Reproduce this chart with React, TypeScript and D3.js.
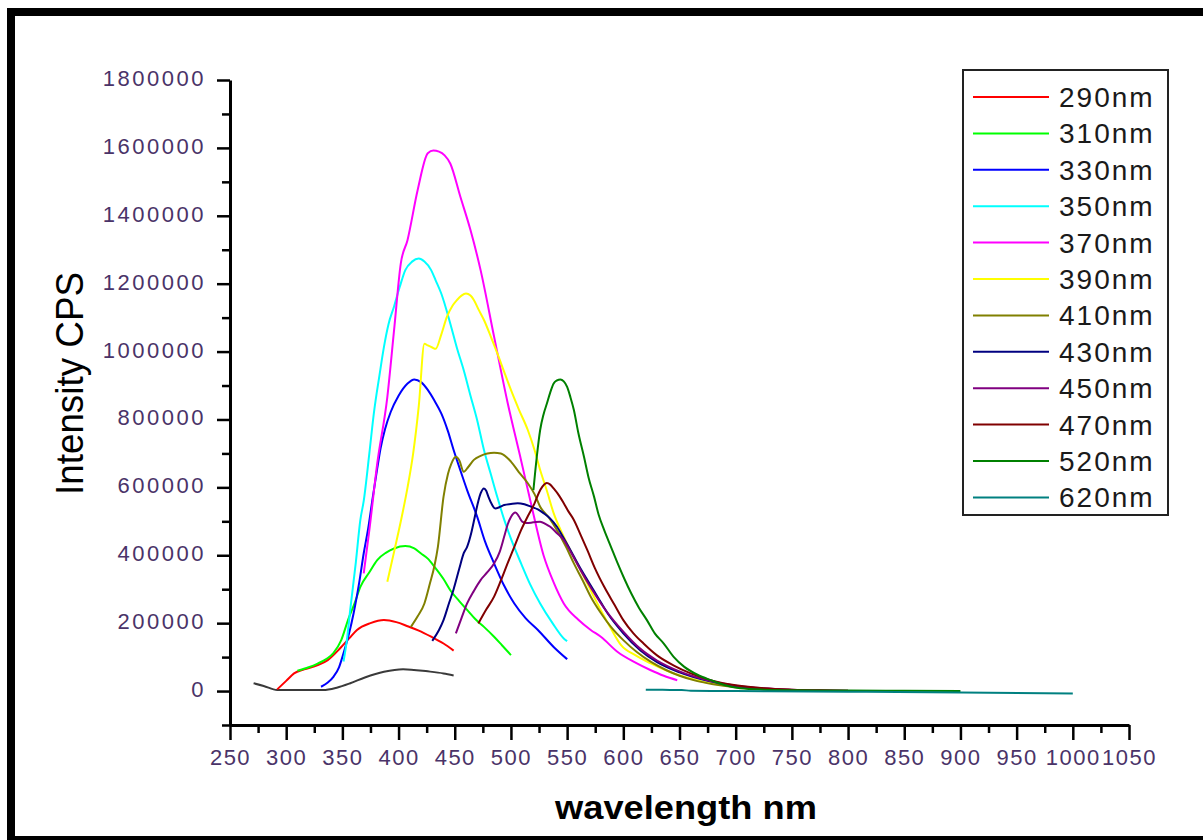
import React, { useEffect, useRef } from "react";
import * as d3 from "d3";

const W = 1203;
const H = 840;

// ---- data ----
const xMajorTicks = [250, 300, 350, 400, 450, 500, 550, 600, 650, 700, 750, 800, 850, 900, 950, 1000, 1050];
const xMinorTicks = [275, 325, 375, 425, 475, 525, 575, 625, 675, 725, 775, 825, 875, 925, 975, 1025];
const yMajorTicks = [0, 200000, 400000, 600000, 800000, 1000000, 1200000, 1400000, 1600000, 1800000];
const yMinorTicks = [-100000, 100000, 300000, 500000, 700000, 900000, 1100000, 1300000, 1500000, 1700000];

const wlBase = [271, 280, 292, 310, 333, 345, 357, 370, 387, 404, 426, 440, 449];
const inBase = [23000, 15000, 3000, 3000, 3000, 10000, 23000, 40000, 57000, 64500, 58000, 52000, 46000];

const wl290 = [292, 300, 307, 316, 327, 337, 348, 356, 363, 375, 387, 398, 408, 418, 429, 440, 449];
const in290 = [5000, 30000, 52000, 64000, 75000, 91000, 126000, 155000, 180000, 200000, 209000, 203000, 191000, 178000, 160000, 140000, 119000];

const wl310 = [310, 320, 328, 336, 342, 349, 355, 361, 366, 374, 381, 389, 396, 406, 414, 420, 426, 432, 440, 446, 454, 461, 468, 476, 485, 492, 500];
const in310 = [60000, 70000, 81000, 95000, 112000, 150000, 209000, 260000, 307000, 350000, 386000, 408000, 420000, 427000, 420000, 405000, 390000, 366000, 330000, 297000, 265000, 239000, 213000, 189000, 160000, 135000, 106000];

const wl330 = [331, 337, 342, 347, 351, 356, 360, 365, 369, 373, 377, 381, 384, 388, 393, 400, 408, 414, 420, 426, 432, 438, 444, 449, 455, 461, 470, 477, 485, 494, 503, 513, 524, 538, 550];
const in330 = [12700, 25000, 42000, 70000, 111000, 170000, 229000, 320000, 406000, 480000, 570000, 655000, 715000, 772000, 822000, 870000, 906000, 918000, 910000, 887000, 855000, 818000, 765000, 710000, 650000, 592000, 513000, 440000, 376000, 310000, 258000, 215000, 180000, 130000, 94000];

const wl350 = [351, 354, 357, 362, 366, 369, 374, 378, 383, 387, 391, 396, 401, 406, 412, 418, 423, 429, 433, 438, 446, 452, 458, 464, 470, 476, 482, 488, 494, 501, 509, 517, 526, 537, 547, 550];
const in350 = [87000, 150000, 240000, 380000, 504000, 560000, 700000, 818000, 930000, 1014000, 1080000, 1133000, 1190000, 1240000, 1265000, 1274000, 1265000, 1240000, 1210000, 1171000, 1083000, 1010000, 945000, 870000, 797000, 710000, 640000, 570000, 505000, 440000, 376000, 315000, 258000, 200000, 155000, 147000];

const wl370 = [369, 374, 381, 390, 396, 402, 408, 417, 426, 431, 436, 441, 446, 455, 464, 473, 485, 497, 509, 518, 529, 538, 547, 560, 571, 580, 595, 610, 624, 636, 648];
const in370 = [347000, 474000, 670000, 866000, 1063000, 1260000, 1329000, 1476000, 1584000, 1592000, 1589000, 1578000, 1554000, 1456000, 1358000, 1240000, 1044000, 850000, 680000, 550000, 400000, 320000, 258000, 210000, 180000, 160000, 115000, 85000, 62000, 45000, 32000];

const wl390 = [390, 396, 402, 408, 413, 418, 423, 426, 430, 433, 438, 443, 448, 452, 456, 460, 464, 467, 471, 476, 482, 488, 494, 500, 507, 515, 521, 526, 532, 538, 547, 555, 562, 575, 588, 598, 611, 624, 640, 654, 670, 690, 700];
const in390 = [322000, 410000, 500000, 600000, 700000, 840000, 1023000, 1018000, 1012000, 1008000, 1050000, 1102000, 1135000, 1152000, 1165000, 1171000, 1165000, 1152000, 1125000, 1093000, 1045000, 994000, 940000, 887000, 830000, 769000, 710000, 651000, 590000, 524000, 455000, 400000, 356000, 270000, 190000, 135000, 105000, 82000, 58000, 42000, 28000, 17000, 12000];

const wl410 = [411, 417, 423, 428, 432, 435, 440, 444, 447, 451, 454, 458, 462, 467, 473, 479, 485, 491, 500, 507, 515, 521, 526, 534, 541, 549, 556, 564, 571, 580, 589, 600, 612, 625, 638, 650, 665, 680, 700, 725, 750];
const in410 = [189000, 220000, 258000, 318000, 370000, 425000, 572000, 640000, 670000, 690000, 680000, 646000, 660000, 681000, 693000, 700000, 702000, 700000, 676000, 645000, 612000, 580000, 543000, 510000, 474000, 425000, 376000, 325000, 278000, 230000, 189000, 150000, 115000, 85000, 62000, 45000, 30000, 20000, 11000, 5000, 2500];

const wl430 = [430, 436, 440, 445, 449, 454, 458, 461, 465, 467, 471, 473, 476, 478, 480, 483, 486, 490, 494, 500, 506, 512, 518, 524, 529, 535, 541, 547, 553, 560, 568, 577, 586, 600, 615, 630, 650, 675, 700, 720, 740];
const in430 = [148000, 180000, 209000, 260000, 300000, 360000, 406000, 425000, 470000, 500000, 560000, 582000, 597000, 590000, 572000, 550000, 538000, 542000, 548000, 551000, 553000, 550000, 543000, 535000, 524000, 508000, 484000, 450000, 415000, 372000, 327000, 278000, 229000, 170000, 120000, 85000, 55000, 30000, 15000, 8000, 4000];

const wl450 = [451, 456, 461, 467, 473, 479, 485, 490, 494, 497, 500, 504, 507, 510, 514, 518, 522, 526, 531, 535, 541, 547, 554, 562, 572, 585, 600, 615, 630, 650, 675, 700, 725, 750, 775, 800];
const in450 = [170000, 215000, 258000, 295000, 327000, 350000, 376000, 410000, 455000, 490000, 513000, 526000, 515000, 499000, 495000, 496000, 498000, 499000, 492000, 484000, 465000, 445000, 405000, 356000, 300000, 235000, 175000, 125000, 90000, 58000, 32000, 16000, 8000, 4000, 2000, 1000];

const wl470 = [471, 478, 485, 491, 497, 503, 509, 515, 521, 525, 528, 532, 535, 538, 543, 547, 551, 556, 562, 568, 575, 583, 592, 600, 609, 618, 630, 645, 660, 680, 700, 725, 750, 775, 800];
const in470 = [199000, 240000, 278000, 325000, 376000, 425000, 474000, 515000, 553000, 585000, 602000, 613000, 608000, 597000, 575000, 553000, 530000, 504000, 460000, 415000, 360000, 307000, 255000, 209000, 170000, 140000, 105000, 75000, 52000, 30000, 17000, 8000, 4000, 2000, 1000];

const wl520 = [520, 523, 526, 529, 532, 535, 538, 541, 544, 547, 550, 553, 556, 560, 565, 569, 574, 578, 583, 589, 595, 601, 607, 614, 621, 628, 636, 645, 654, 666, 678, 690, 704, 725, 750, 800, 850, 900];
const in520 = [592000, 690000, 769000, 815000, 847000, 880000, 906000, 915000, 918000, 912000, 896000, 865000, 828000, 760000, 690000, 630000, 572000, 520000, 474000, 425000, 376000, 330000, 288000, 245000, 209000, 170000, 140000, 100000, 72000, 48000, 32000, 18000, 8000, 4000, 2500, 1500, 1000, 500];

const wl620 = [620, 635, 652, 660, 700, 800, 900, 1000];
const in620 = [4000, 3500, 3000, 1000, 0, -2000, -4000, -7000];

const legendNames = ["290nm", "310nm", "330nm", "350nm", "370nm", "390nm", "410nm", "430nm", "450nm", "470nm", "520nm", "620nm"];
const legendColors = ["#ff0000", "#00ff00", "#0000ff", "#00ffff", "#ff00ff", "#ffff00", "#808000", "#000080", "#800080", "#800000", "#008000", "#008080"];
const seriesWl = [wl290, wl310, wl330, wl350, wl370, wl390, wl410, wl430, wl450, wl470, wl520, wl620];
const seriesIn = [in290, in310, in330, in350, in370, in390, in410, in430, in450, in470, in520, in620];

const FONT = "Arial, 'Liberation Sans', sans-serif";
const TICK_COLOR = "#4a3368";

export default function App() {
  const axRef = useRef<SVGGElement>(null);

  const x = d3.scaleLinear().domain([250, 1050]).range([230, 1129]);
  const y = d3.scaleLinear().domain([-100000, 1800000]).range([725, 80]);

  const line = d3
    .line<[number, number]>()
    .x((d) => x(d[0]))
    .y((d) => y(d[1]))
    .curve(d3.curveMonotoneX);

  const mk = (w: number[], v: number[]) => w.map((wv, i) => [wv, v[i]] as [number, number]);

  useEffect(() => {
    if (!axRef.current) return;
    const g = d3.select(axRef.current);
    g.selectAll("*").remove();

    const style = (sel: any) => {
      sel.selectAll(".domain").attr("stroke", "#000").attr("stroke-width", 3);
      sel.selectAll(".tick line").attr("stroke", "#000").attr("stroke-width", 2.5);
      sel.attr("font-family", FONT).attr("font-size", 22);
    };

    const xm = g
      .append("g")
      .attr("transform", "translate(0,725)")
      .call(d3.axisBottom(x).tickValues(xMinorTicks).tickSize(8).tickSizeOuter(0).tickFormat(() => ""));
    style(xm);
    xm.select(".domain").remove();

    const ym = g
      .append("g")
      .attr("transform", "translate(230,0)")
      .call(d3.axisLeft(y).tickValues(yMinorTicks).tickSize(8).tickSizeOuter(0).tickFormat(() => ""));
    style(ym);
    ym.select(".domain").remove();

    const xa = g
      .append("g")
      .attr("transform", "translate(0,725)")
      .call(
        d3
          .axisBottom(x)
          .tickValues(xMajorTicks)
          .tickSize(15)
          .tickSizeOuter(0)
          .tickPadding(9)
          .tickFormat((d: any) => String(d))
      );
    style(xa);
    xa.selectAll(".tick text").attr("fill", TICK_COLOR).attr("letter-spacing", 1.5);

    const ya = g
      .append("g")
      .attr("transform", "translate(230,0)")
      .call(
        d3
          .axisLeft(y)
          .tickValues(yMajorTicks)
          .tickSize(13)
          .tickSizeOuter(0)
          .tickPadding(11)
          .tickFormat((d: any) => String(d))
      );
    style(ya);
    ya.selectAll(".tick text").attr("fill", TICK_COLOR).attr("letter-spacing", 2.5).attr("dy", "0.25em");
  }, []);

  const legendX0 = 973;
  const legendX1 = 1049;
  const legendTextX = 1059;
  const legendY0 = 97;
  const legendDy = 36.4;

  return (
    <svg
      width={W}
      height={H}
      style={{ position: "absolute", left: 0, top: 0, background: "#fff" }}
      xmlns="http://www.w3.org/2000/svg"
    >
      <rect x={0} y={0} width={W} height={H} fill="#fff" />
      <rect x={11} y={12} width={1220} height={828} fill="none" stroke="#000" strokeWidth={8} />

      <g fill="none" strokeWidth={2}>
        <path d={line(mk(wlBase, inBase)) || ""} stroke="#3a3a3a" />
        {seriesWl.map((w, i) => (
          <path key={legendNames[i]} d={line(mk(w, seriesIn[i])) || ""} stroke={legendColors[i]} />
        ))}
      </g>

      <g ref={axRef} />

      <text
        transform="translate(83,383.5) rotate(-90)"
        textAnchor="middle"
        fontFamily={FONT}
        fontSize={38}
        textLength={223}
        lengthAdjust="spacingAndGlyphs"
        fill="#000"
      >
        Intensity CPS
      </text>
      <text
        x={686}
        y={819}
        textAnchor="middle"
        fontFamily={FONT}
        fontWeight="bold"
        fontSize={33}
        textLength={262}
        lengthAdjust="spacingAndGlyphs"
        fill="#000"
      >
        wavelength nm
      </text>

      <rect x={963} y={70} width={205} height={445} fill="#fff" stroke="#222" strokeWidth={2} />
      {legendNames.map((n, i) => {
        const cy = legendY0 + i * legendDy;
        return (
          <g key={n}>
            <line x1={legendX0} x2={legendX1} y1={cy} y2={cy} stroke={legendColors[i]} strokeWidth={2} />
            <text
              x={legendTextX}
              y={cy}
              dy="0.36em"
              fontFamily={FONT}
              fontSize={28}
              letterSpacing={2}
              fill="#1a1a1a"
            >
              {n}
            </text>
          </g>
        );
      })}
    </svg>
  );
}
